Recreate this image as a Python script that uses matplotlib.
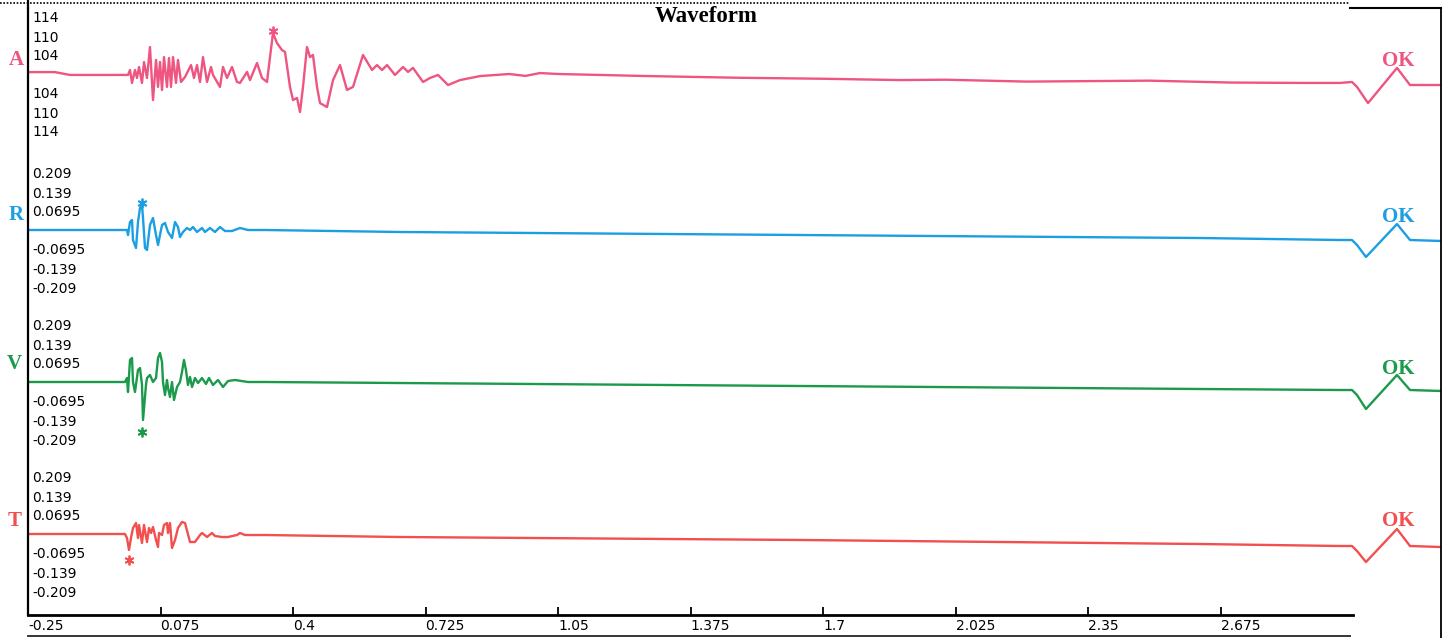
import matplotlib
matplotlib.use("Agg")
import matplotlib.pyplot as plt
from matplotlib.lines import Line2D
import numpy as np

# ---------------- data ----------------
channels = ["A", "R", "V", "T"]
colors = {"A": "#ee5580", "R": "#1c9fe2", "V": "#1b9a4c", "T": "#f24f4f"}

# A channel (amplitude in tick levels: 1 -> 104, 2 -> 110, 3 -> 114)
A_t = [-0.25, -0.184, -0.147, -0.0243, -0.0047, 0.0002, 0.0051, 0.0124, 0.0173, 0.0223,
       0.0296, 0.0345, 0.0419, 0.0492, 0.0566, 0.0640, 0.0689, 0.0738, 0.0787, 0.0836,
       0.0909, 0.0958, 0.1008, 0.1057, 0.1130, 0.1179, 0.1253, 0.1351, 0.1498, 0.1572,
       0.1645, 0.1719, 0.1792, 0.1891, 0.1989, 0.2038, 0.2209, 0.2283, 0.2381, 0.2504,
       0.2626, 0.2700, 0.2872, 0.2945, 0.3117, 0.3240, 0.3362, 0.3436, 0.3509, 0.3607,
       0.3730, 0.3804, 0.3926, 0.4000, 0.4098, 0.4172, 0.4245, 0.4343, 0.4417, 0.4490,
       0.4589, 0.4662, 0.4834, 0.4981, 0.5153, 0.5324, 0.5472, 0.5717, 0.5938, 0.6060,
       0.6183, 0.6306, 0.6502, 0.6698, 0.6821, 0.6943, 0.7189, 0.7360, 0.7557, 0.7802,
       0.8096, 0.8587, 0.93, 0.97, 1.0058, 1.05, 1.153, 1.25, 1.3983, 1.5, 1.7, 1.8888,
       2.0, 2.2, 2.3794, 2.5, 2.7, 2.8700, 2.9681, 2.9975, 3.0098, 3.0368, 3.1079,
       3.1398, 3.2158]
A_amp = [0.10, 0.10, -0.05, -0.05, -0.05, 0.21, -0.47, 0.21, -0.21, 0.37,
         -0.47, 0.63, -0.21, 1.42, -1.37, 0.74, -0.68, 0.63, -0.84, 0.89,
         -0.68, 0.84, -0.68, 0.89, -0.47, 0.74, -0.42, -0.16, 0.47, -0.21,
         0.47, -0.42, 0.89, -0.42, 0.37, -0.05, -0.68, 0.37, -0.21, 0.37,
         -0.42, -0.47, 0.11, -0.32, 0.58, -0.21, -0.42, 0.89, 2.16, 1.63,
         1.26, 1.16, -0.68, -1.37, -1.26, -2.00, -0.68, 1.42, 0.89, 1.00,
         -0.68, -1.53, -1.74, -0.32, 0.47, -0.84, -0.68, 1.00, 0.21, 0.47,
         0.21, 0.47, -0.05, 0.37, 0.11, 0.32, -0.42, -0.21, -0.05, -0.58,
         -0.32, -0.11, 0.0, -0.10, 0.05, 0.0, -0.05, -0.10, -0.16, -0.20, -0.25, -0.32,
         -0.30, -0.40, -0.37, -0.35, -0.45, -0.47, -0.47, -0.42, -0.68, -1.53, 0.32,
         -0.58, -0.58]

R_t = [-0.25, -0.0366, -0.0072, -0.0047, 0.0002, 0.0051, 0.0075, 0.0149, 0.0198, 0.0247,
       0.0296, 0.0321, 0.0370, 0.0419, 0.0492, 0.0566, 0.0640, 0.0689, 0.0787, 0.0860,
       0.0934, 0.1032, 0.1106, 0.1179, 0.1228, 0.1302, 0.1400, 0.1474, 0.1547, 0.1645,
       0.1768, 0.1841, 0.1964, 0.2087, 0.2209, 0.2332, 0.2504, 0.2700, 0.2896, 0.3313,
       0.6625, 1.6436, 2.6247, 2.9681, 2.9975, 3.0098, 3.0318, 3.1079, 3.1398, 3.2158]
R_amp = [0.0, 0.0, 0.0, -0.0183, 0.0293, 0.0366, -0.0366, -0.0658, 0.0293, 0.0805,
         0.0915, 0.0439, -0.0658, -0.0732, 0.0183, 0.0439, -0.0183, -0.0549, 0.0183, 0.0256,
         -0.0073, -0.0293, 0.0293, 0.0110, -0.0256, -0.0073, 0.0073, 0.0, 0.0110, -0.0073,
         0.0073, -0.0073, 0.0073, -0.0073, 0.0110, -0.0037, -0.0037, 0.0073, 0.0, 0.0,
         -0.0073, -0.0183, -0.0293, -0.0366, -0.0366, -0.0549, -0.0988, 0.0219, -0.0366, -0.0402]

V_t = [-0.25, -0.0121, -0.0072, -0.0047, 0.0002, 0.0051, 0.0075, 0.0124, 0.0198, 0.0247,
       0.0296, 0.0321, 0.0394, 0.0419, 0.0492, 0.0566, 0.0640, 0.0689, 0.0738, 0.0787,
       0.0811, 0.0860, 0.0909, 0.0934, 0.0983, 0.1032, 0.1081, 0.1155, 0.1228, 0.1277,
       0.1326, 0.1375, 0.1424, 0.1474, 0.1523, 0.1596, 0.1670, 0.1768, 0.1866, 0.1940,
       0.2038, 0.2160, 0.2283, 0.2406, 0.2577, 0.2896, 0.3313, 0.6625, 1.6436, 2.6247,
       2.9681, 2.9975, 3.0098, 3.0318, 3.1079, 3.1398, 3.2158]
V_amp = [0.0, 0.0, 0.0146, -0.0366, 0.0805, 0.0878, 0.0, -0.0366, 0.0439, 0.0512,
         -0.0110, -0.139, -0.0110, 0.0146, 0.0256, 0.0, 0.0146, 0.0878, 0.1061, 0.0732,
         0.0, -0.0476, 0.0073, -0.0219, -0.0549, 0.0, -0.0658, -0.0183, 0.0, 0.0366,
         0.0805, 0.0439, -0.0110, 0.0183, -0.0183, 0.0146, -0.0037, 0.0146, -0.0073, 0.0146,
         -0.0110, 0.0073, -0.0183, 0.0037, 0.0073, 0.0, 0.0, -0.0037, -0.0146, -0.0256,
         -0.0293, -0.0293, -0.0476, -0.0988, 0.0256, -0.0293, -0.0329]

T_t = [-0.25, -0.0121, -0.0072, -0.0023, 0.0026, 0.0075, 0.0149, 0.0198, 0.0223, 0.0296,
       0.0345, 0.0419, 0.0468, 0.0517, 0.0566, 0.0640, 0.0689, 0.0713, 0.0787, 0.0836,
       0.0909, 0.0934, 0.0983, 0.1032, 0.1106, 0.1179, 0.1277, 0.1351, 0.1474, 0.1596,
       0.1719, 0.1768, 0.1891, 0.2013, 0.2087, 0.2258, 0.2406, 0.2626, 0.2700, 0.2823,
       0.3068, 0.3313, 0.6625, 1.6436, 2.6247, 2.9681, 2.9975, 3.0098, 3.0318, 3.1079,
       3.1398, 3.2158]
T_amp = [0.0, 0.0, -0.0146, -0.0585, -0.0146, 0.0219, 0.0402, -0.0146, 0.0329, -0.0329,
         0.0329, -0.0293, 0.0219, 0.0037, 0.0256, -0.0219, -0.0476, 0.0037, -0.0037, 0.0329,
         0.0402, 0.0037, 0.0402, -0.0512, -0.0219, 0.0219, 0.0439, 0.0402, -0.0293, -0.0293,
         -0.0037, 0.0037, -0.0110, 0.0037, -0.0073, -0.0110, -0.0110, -0.0037, 0.0037, -0.0037,
         -0.0037, -0.0037, -0.0110, -0.0219, -0.0366, -0.0439, -0.0439, -0.0622, -0.1024, 0.0183,
         -0.0439, -0.0476]

# picked arrivals (asterisks)
pick_t = {"A": 0.3509, "R": 0.0296, "V": 0.0296, "T": -0.0023}
pick_amp = {"A": 2.25, "R": 0.099, "V": -0.183, "T": -0.095}

x_ticks = [-0.25, 0.075, 0.4, 0.725, 1.05, 1.375, 1.7, 2.025, 2.35, 2.675]
x_tick_labels = ["-0.25", "0.075", "0.4", "0.725", "1.05", "1.375", "1.7", "2.025", "2.35", "2.675"]
A_tick_levels = [3, 2, 1, -1, -2, -3]
A_tick_labels = ["114", "110", "104", "104", "110", "114"]
RVT_tick_values = [0.209, 0.139, 0.0695, -0.0695, -0.139, -0.209]
RVT_tick_labels = ["0.209", "0.139", "0.0695", "-0.0695", "-0.139", "-0.209"]

series = {"A": (A_t, A_amp), "R": (R_t, R_amp), "V": (V_t, V_amp), "T": (T_t, T_amp)}

# ---------------- layout ----------------
W, H = 1447, 638
fig = plt.figure(figsize=(W / 100, H / 100), dpi=100)
fig.patch.set_facecolor("white")

ax_left, ax_right, ax_top, ax_bot = 28, 1441, 8, 615
ax = fig.add_axes([ax_left / W, (H - ax_bot) / H, (ax_right - ax_left) / W, (ax_bot - ax_top) / H])
ax.set_xlim(-0.25, 3.2158)
ax.set_ylim(608 - ax_bot, 600)

offsets = {"A": 534, "R": 378, "V": 226, "T": 74}
scales = {"A": 19.0, "R": 19.0 / 0.0695, "V": 19.0 / 0.0695, "T": 19.0 / 0.0695}

ytick_pos, ytick_lab = [], []
for ch in channels:
    t, a = series[ch]
    y = offsets[ch] + scales[ch] * np.asarray(a)
    ax.plot(t, y, color=colors[ch], lw=1.7, solid_joinstyle="round")
    ax.plot([pick_t[ch]], [offsets[ch] + scales[ch] * pick_amp[ch]], marker=(6, 2, 0),
            color=colors[ch], ms=7, mew=1.3, ls="none")
    levels = A_tick_levels if ch == "A" else RVT_tick_values
    labels = A_tick_labels if ch == "A" else RVT_tick_labels
    for v, lab in zip(levels, labels):
        ytick_pos.append(offsets[ch] + scales[ch] * v)
        ytick_lab.append(lab)
    ax.text(3.11, offsets[ch] + 13, "OK", color=colors[ch], ha="center", va="center",
            fontsize=15, fontweight="bold", family="Liberation Serif")

ax.set_yticks(ytick_pos, ytick_lab)
ax.tick_params(axis="y", length=0, pad=-3, labelsize=10)
for lab in ax.get_yticklabels():
    lab.set_horizontalalignment("left")

ax.set_xticks(x_ticks, x_tick_labels)
ax.tick_params(axis="x", direction="in", length=6, width=1.3, pad=3, labelsize=10)
for lab in ax.get_xticklabels():
    lab.set_horizontalalignment("left")

for s in ["top", "right"]:
    ax.spines[s].set_visible(False)
ax.spines["left"].set_linewidth(1.6)
ax.spines["bottom"].set_linewidth(2.0)
ax.spines["bottom"].set_bounds(-0.25, 3.0)

# channel letters
letter_pos = {"A": (16, 60), "R": (16, 215), "V": (14, 364), "T": (15, 521)}
for ch in channels:
    x, y = letter_pos[ch]
    fig.text(x / W, 1 - y / H, ch, color=colors[ch], ha="center", va="center",
             fontsize=15, fontweight="bold", family="Liberation Serif")

fig.text(706 / W, 1 - 17 / H, "Waveform", ha="center", va="center",
         fontsize=16.5, fontweight="bold", family="Liberation Serif")

# frame decorations
fig.add_artist(Line2D([0 / W, 1350 / W], [1 - 3 / H] * 2, ls=(0, (1, 1)), color="black", lw=1.2))
fig.add_artist(Line2D([1350 / W, 1441 / W], [1 - 8 / H] * 2, color="black", lw=1.5))
fig.add_artist(Line2D([1441 / W, 1441 / W], [1 - 8 / H, 0], color="black", lw=1.3))
fig.add_artist(Line2D([28 / W, 28 / W], [1 - 0 / H, 1 - 8 / H], color="black", lw=1.6))
fig.add_artist(Line2D([28 / W, 1350 / W], [1 - 636 / H] * 2, color="#3a3530", lw=1.4))

fig.savefig("out.png", dpi=100, facecolor="white")
